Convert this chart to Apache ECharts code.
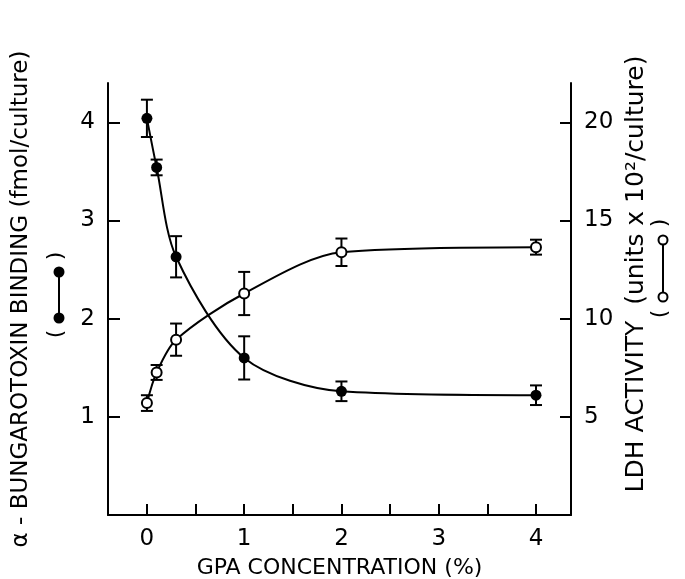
<!DOCTYPE html>
<html>
<head>
<meta charset="utf-8">
<script src="https://cdn.jsdelivr.net/npm/echarts@6/dist/echarts.min.js"></script>
<style>html,body{margin:0;padding:0;background:#fff;}#c{width:685px;height:579px;}</style>
</head>
<body>
<div id="c"></div>
<script>
// ---- data ----
const gpaConc = [0, 0.1, 0.3, 1, 2, 4];                 // GPA concentration (%)
const bindingMean = [4.04, 3.54, 2.63, 1.60, 1.26, 1.22]; // fmol/culture (filled)
const bindingErr  = [0.19, 0.08, 0.21, 0.22, 0.10, 0.10];
const ldhMean = [5.70, 7.26, 8.93, 11.28, 13.38, 13.64];  // units x 10^2/culture (open)
const ldhErr  = [0.40, 0.38, 0.82, 1.10, 0.70, 0.38];
const xTickValues  = [0, 0.5, 1, 1.5, 2, 2.5, 3, 3.5, 4];
const xLabelValues = [0, 1, 2, 3, 4];
const leftTickValues  = [1, 2, 3, 4];
const rightTickValues = [5, 10, 15, 20];

const FONT = 'DejaVu Sans';
const chart = echarts.init(document.getElementById('c'), null, {renderer: 'canvas'});

function pairs(xs, ys) { return xs.map((x, i) => [x, ys[i]]); }
function errData(xs, m, e) { return xs.map((x, i) => [x, m[i] - e[i], m[i] + e[i]]); }

function errRender(params, api) {
  const x = api.value(0);
  const lo = api.coord([x, api.value(1)]);
  const hi = api.coord([x, api.value(2)]);
  const w = 6;
  const st = {stroke: '#000', lineWidth: 2};
  return {type: 'group', children: [
    {type: 'line', shape: {x1: lo[0], y1: lo[1], x2: hi[0], y2: hi[1]}, style: st},
    {type: 'line', shape: {x1: lo[0] - w, y1: lo[1], x2: lo[0] + w, y2: lo[1]}, style: st},
    {type: 'line', shape: {x1: hi[0] - w, y1: hi[1], x2: hi[0] + w, y2: hi[1]}, style: st}
  ]};
}

const axisLineStyle = {color: '#000', width: 2};
const labelStyle = {color: '#000', fontFamily: FONT, fontSize: 23};

const option = {
  backgroundColor: '#fff',
  animation: false,
  grid: {left: 108, right: 114, top: 83, bottom: 64, containLabel: false, outerBoundsMode: 'none'},
  xAxis: {
    type: 'value', min: -0.4, max: 4.36,
    name: 'GPA CONCENTRATION (%)', nameLocation: 'middle', nameGap: 42,
    nameTextStyle: {color: '#000', fontFamily: FONT, fontSize: 22},
    axisLine: {show: true, onZero: false, lineStyle: axisLineStyle},
    axisTick: {show: true, inside: true, length: 11, customValues: xTickValues, lineStyle: axisLineStyle},
    axisLabel: Object.assign({customValues: xLabelValues, margin: 13}, labelStyle),
    splitLine: {show: false}
  },
  yAxis: [{
    type: 'value', min: 0, max: 4.4, position: 'left',
    name: 'α - BUNGAROTOXIN BINDING (fmol/culture)', nameLocation: 'middle', nameGap: 75, nameRotate: 90,
    nameTextStyle: {color: '#000', fontFamily: FONT, fontSize: 23},
    axisLine: {show: true, onZero: false, lineStyle: axisLineStyle},
    axisTick: {show: true, inside: true, length: 12, customValues: leftTickValues, lineStyle: axisLineStyle},
    axisLabel: Object.assign({customValues: leftTickValues, margin: 13}, labelStyle),
    splitLine: {show: false}
  }, {
    type: 'value', min: 0, max: 22, position: 'right',
    name: 'LDH ACTIVITY  (units x 10²/culture)', nameLocation: 'middle', nameGap: 45, nameRotate: 90,
    nameTextStyle: {color: '#000', fontFamily: FONT, fontSize: 25, padding: [0, 0, 0, 50]},
    axisLine: {show: true, onZero: false, lineStyle: axisLineStyle},
    axisTick: {show: true, inside: true, length: 11, customValues: rightTickValues, lineStyle: axisLineStyle},
    axisLabel: Object.assign({customValues: rightTickValues, margin: 13}, labelStyle),
    splitLine: {show: false}
  }],
  series: [
    {type: 'line', data: pairs(gpaConc, bindingMean), yAxisIndex: 0, showSymbol: false,
     smooth: 0.3, lineStyle: {color: '#000', width: 2}, z: 2, silent: true},
    {type: 'line', data: pairs(gpaConc, ldhMean), yAxisIndex: 1, showSymbol: false,
     smooth: 0.3, lineStyle: {color: '#000', width: 2}, z: 2, silent: true},
    {type: 'custom', data: errData(gpaConc, bindingMean, bindingErr), yAxisIndex: 0,
     renderItem: errRender, encode: {x: 0, y: [1, 2]}, z: 3, silent: true},
    {type: 'custom', data: errData(gpaConc, ldhMean, ldhErr), yAxisIndex: 1,
     renderItem: errRender, encode: {x: 0, y: [1, 2]}, z: 3, silent: true},
    {type: 'scatter', data: pairs(gpaConc, bindingMean), yAxisIndex: 0, symbol: 'circle', symbolSize: 11,
     itemStyle: {color: '#000', opacity: 1}, z: 4, silent: true},
    {type: 'scatter', data: pairs(gpaConc, ldhMean), yAxisIndex: 1, symbol: 'circle', symbolSize: 10,
     itemStyle: {color: '#fff', borderColor: '#000', borderWidth: 2, opacity: 1}, z: 4, silent: true}
  ],
  graphic: [
    // left legend glyph: ( ●—● )
    {type: 'line', shape: {x1: 59, y1: 272, x2: 59, y2: 318}, style: {stroke: '#000', lineWidth: 2}},
    {type: 'circle', shape: {cx: 59, cy: 272, r: 5.5}, style: {fill: '#000'}},
    {type: 'circle', shape: {cx: 59, cy: 318, r: 5.5}, style: {fill: '#000'}},
    {type: 'text', x: 56, y: 334, rotation: Math.PI / 2, style: {text: '(', font: '22px ' + FONT, fill: '#000', align: 'center', verticalAlign: 'middle'}},
    {type: 'text', x: 56, y: 256, rotation: Math.PI / 2, style: {text: ')', font: '22px ' + FONT, fill: '#000', align: 'center', verticalAlign: 'middle'}},
    // right legend glyph: ( ○—○ )
    {type: 'line', shape: {x1: 663, y1: 240, x2: 663, y2: 297}, style: {stroke: '#000', lineWidth: 2}},
    {type: 'circle', shape: {cx: 663, cy: 240, r: 4.5}, style: {fill: '#fff', stroke: '#000', lineWidth: 2}},
    {type: 'circle', shape: {cx: 663, cy: 297, r: 4.5}, style: {fill: '#fff', stroke: '#000', lineWidth: 2}},
    {type: 'text', x: 660, y: 314, rotation: Math.PI / 2, style: {text: '(', font: '22px ' + FONT, fill: '#000', align: 'center', verticalAlign: 'middle'}},
    {type: 'text', x: 660, y: 223, rotation: Math.PI / 2, style: {text: ')', font: '22px ' + FONT, fill: '#000', align: 'center', verticalAlign: 'middle'}}
  ]
};
chart.setOption(option);
</script>
</body>
</html>
